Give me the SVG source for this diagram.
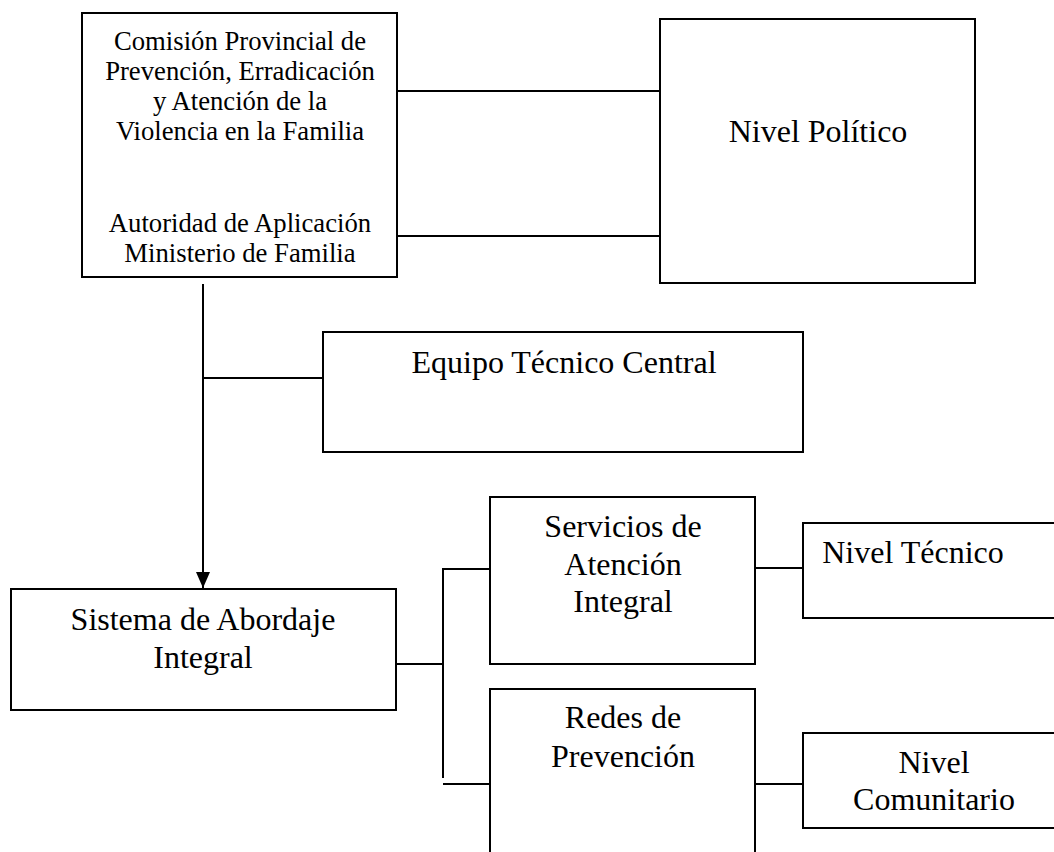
<svg xmlns="http://www.w3.org/2000/svg" width="1054" height="852" viewBox="0 0 1054 852">
<defs>
<style>
.box{fill:#fff;stroke:#000;stroke-width:2}
.ln{fill:none;stroke:#000;stroke-width:2}
.t{font-family:"Liberation Serif","Times New Roman",serif;fill:#000;text-anchor:middle}
.s{font-size:26.7px}
.l{font-size:32px}
</style>
<marker id="arr" markerWidth="16" markerHeight="14" refX="16" refY="7" orient="auto" markerUnits="userSpaceOnUse">
<path d="M0,0 L16,7 L0,14 Z" fill="#000"/>
</marker>
</defs>
<rect width="1054" height="852" fill="#fff"/>
<g id="connectors">
<line class="ln" x1="397" y1="91" x2="660" y2="91"/>
<line class="ln" x1="397" y1="236" x2="660" y2="236"/>
<line class="ln" x1="203" y1="284" x2="203" y2="588" marker-end="url(#arr)"/>
<line class="ln" x1="203" y1="378" x2="323" y2="378"/>
<line class="ln" x1="396" y1="664" x2="443" y2="664"/>
<line class="ln" x1="443" y1="569" x2="443" y2="778"/>
<line class="ln" x1="442" y1="569" x2="490" y2="569"/>
<line class="ln" x1="443" y1="784" x2="490" y2="784"/>
<line class="ln" x1="755" y1="568" x2="803" y2="568"/>
<line class="ln" x1="755" y1="784" x2="803" y2="784"/>
</g>
<g id="comision">
<rect class="box" x="82" y="13" width="315" height="264"/>
<text class="t s" x="240" y="50">Comisión Provincial de</text>
<text class="t s" x="240" y="80">Prevención, Erradicación</text>
<text class="t s" x="240" y="110">y Atención de la</text>
<text class="t s" x="240" y="140">Violencia en la Familia</text>
<text class="t s" x="240" y="232">Autoridad de Aplicación</text>
<text class="t s" x="240" y="262">Ministerio de Familia</text>
</g>
<g id="nivel-politico">
<rect class="box" x="660" y="19" width="315" height="264"/>
<text class="t l" x="818" y="142">Nivel Político</text>
</g>
<g id="equipo-tecnico">
<rect class="box" x="323" y="332" width="480" height="120"/>
<text class="t l" x="564" y="373">Equipo Técnico Central</text>
</g>
<g id="sistema">
<rect class="box" x="11" y="589" width="385" height="121"/>
<text class="t l" x="203" y="630">Sistema de Abordaje</text>
<text class="t l" x="203" y="668">Integral</text>
</g>
<g id="servicios">
<rect class="box" x="490" y="497" width="265" height="167"/>
<text class="t l" x="623" y="537">Servicios de</text>
<text class="t l" x="623" y="575">Atención</text>
<text class="t l" x="623" y="612">Integral</text>
</g>
<g id="redes">
<rect class="box" x="490" y="689" width="265" height="180"/>
<text class="t l" x="623" y="728">Redes de</text>
<text class="t l" x="623" y="767">Prevención</text>
</g>
<g id="nivel-tecnico">
<rect class="box" x="803" y="523" width="270" height="95"/>
<text class="t l" x="913" y="563">Nivel Técnico</text>
</g>
<g id="nivel-comunitario">
<rect class="box" x="803" y="733" width="270" height="95"/>
<text class="t l" x="934" y="773">Nivel</text>
<text class="t l" x="934" y="810">Comunitario</text>
</g>
</svg>
